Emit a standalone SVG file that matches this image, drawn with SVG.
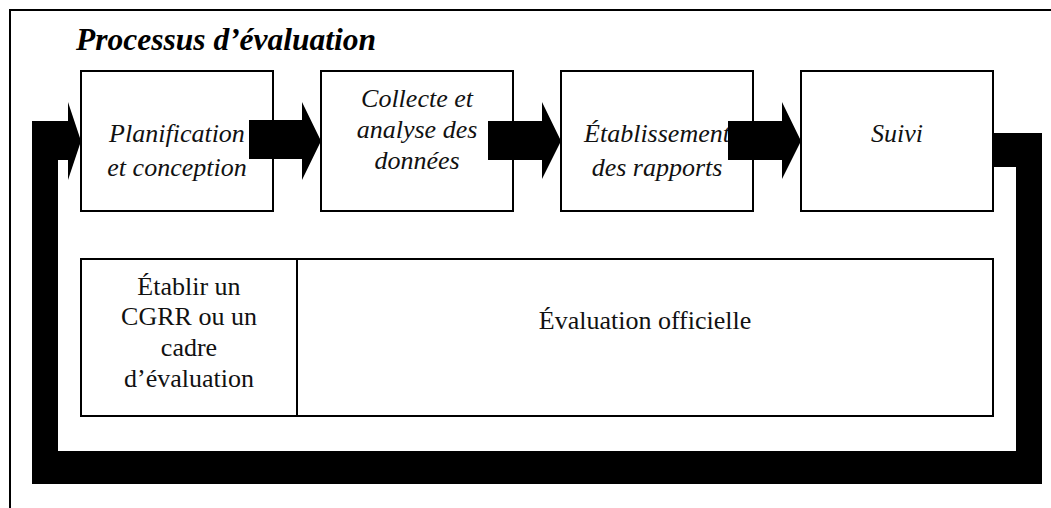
<svg xmlns="http://www.w3.org/2000/svg" width="1051" height="508" viewBox="0 0 1051 508">
<rect width="1051" height="508" fill="#fff"/>
<path d="M10 508 V10 H1051" fill="none" stroke="#000" stroke-width="2"/>
<text font-family="Liberation Serif" font-style="italic" font-weight="bold" font-size="31.5" x="76" y="50">Processus d’évaluation</text>
<g id="n1"><rect x="81" y="71" width="192" height="140" fill="#fff" stroke="#000" stroke-width="2"/><text font-family="Liberation Serif" font-style="italic" font-size="26" text-anchor="middle" fill="#111" x="177" y="142">Planification</text><text font-family="Liberation Serif" font-style="italic" font-size="26" text-anchor="middle" fill="#111" x="177" y="176">et conception</text></g>
<g id="n2"><rect x="321" y="71" width="192" height="140" fill="#fff" stroke="#000" stroke-width="2"/><text font-family="Liberation Serif" font-style="italic" font-size="26" text-anchor="middle" fill="#111" x="417" y="107">Collecte et</text><text font-family="Liberation Serif" font-style="italic" font-size="26" text-anchor="middle" fill="#111" x="417" y="138">analyse des</text><text font-family="Liberation Serif" font-style="italic" font-size="26" text-anchor="middle" fill="#111" x="417" y="169">données</text></g>
<g id="n3"><rect x="561" y="71" width="192" height="140" fill="#fff" stroke="#000" stroke-width="2"/><text font-family="Liberation Serif" font-style="italic" font-size="26" text-anchor="middle" fill="#111" x="657" y="142">Établissement</text><text font-family="Liberation Serif" font-style="italic" font-size="26" text-anchor="middle" fill="#111" x="657" y="176">des rapports</text></g>
<g id="n4"><rect x="801" y="71" width="192" height="140" fill="#fff" stroke="#000" stroke-width="2"/><text font-family="Liberation Serif" font-style="italic" font-size="26" text-anchor="middle" fill="#111" x="897" y="142">Suivi</text></g>
<g id="n5"><rect x="81" y="259" width="912" height="157" fill="#fff" stroke="#000" stroke-width="2"/><line x1="297" y1="259" x2="297" y2="416" stroke="#000" stroke-width="2"/>
<text font-family="Liberation Serif" font-size="26" text-anchor="middle" fill="#111" x="189" y="295">Établir un</text><text font-family="Liberation Serif" font-size="26" text-anchor="middle" fill="#111" x="189" y="325">CGRR ou un</text><text font-family="Liberation Serif" font-size="26" text-anchor="middle" fill="#111" x="189" y="356">cadre</text><text font-family="Liberation Serif" font-size="26" text-anchor="middle" fill="#111" x="189" y="387">d’évaluation</text>
<text font-family="Liberation Serif" font-size="26" text-anchor="middle" fill="#111" x="645" y="329">Évaluation officielle</text></g>
<g id="connectors" fill="#000">
<polygon points="249,120 302,120 302,102 321,141 302,180 302,159 249,159"/>
<polygon points="488,121 542,121 542,102 561,141 542,179 542,160 488,160"/>
<polygon points="728,121 782,121 782,102 801,141 782,179 782,160 728,160"/>
<polygon points="994,133 1042,133 1042,484 32,484 32,121 68,121 68,102 81,141 68,180 68,160 58,160 58,451 1016,451 1016,167 994,167"/>
</g>
</svg>
